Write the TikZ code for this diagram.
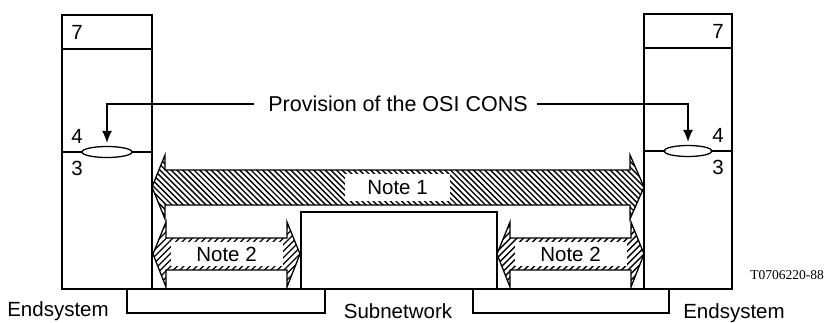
\documentclass[tikz,border=0pt]{standalone}
\usepackage{fontspec}
\setmainfont{Liberation Sans}
\newfontfamily\tfont{Liberation Serif}
\usetikzlibrary{arrows.meta,shapes.geometric}
\begin{document}
\begin{tikzpicture}[x=1pt,y=-1pt,line width=1.3pt,
  lbl/.style={font=\fontsize{20.5}{24}\selectfont,inner sep=0pt},
  lay/.style={ellipse,draw,fill=white,minimum width=50pt,minimum height=11pt,inner sep=0pt},
  hatchline/.style={line width=1.4pt},
  notebox/.style={fill=white,inner sep=0pt,font=\fontsize{20.5}{24}\selectfont},
  conn/.style={-{Latex[length=12pt,width=10pt]},shorten >=3pt}]
\useasboundingbox (0,0) rectangle (830,322);
% end systems
\draw (62,15) rectangle (152,289);
\draw (62,49) -- (152,49);
\draw (644,14) rectangle (732,289);
\draw (644,48) -- (732,48);
% subnetwork
\draw (301,212) rectangle (497,289);
% brackets
\draw (127,289) rectangle (325,313);
\draw (473,289) rectangle (669,313);
% layer divider 4/3
\draw (62,152) -- (152,152);
\draw (644,151) -- (732,151);
\node[lay] (ell1) at (107,152) {};
\node[lay,minimum width=48pt] (ell2) at (688,151) {};
% layer labels
\node[lbl] (l7a) at (77,32) {7};
\node[lbl] (l4a) at (77,136) {4};
\node[lbl] (l3a) at (77,168) {3};
\node[lbl] (l7b) at (718,31) {7};
\node[lbl] (l4b) at (718,135) {4};
\node[lbl] (l3b) at (718,167) {3};
% provision
\node[lbl,font=\fontsize{21.5}{24}\selectfont] (prov) at (398,104) {Provision of the OSI CONS};
\draw[conn] ([xshift=-14pt]prov.west) -| (ell1.north);
\draw[conn] ([xshift=9pt]prov.east) -| (ell2.north);
% Note 1 arrow
\def\arrowA{(152,187) -- (165,155) -- (165,170) -- (630,170) -- (630,155) -- (644,187)
  -- (630,219) -- (630,205) -- (165,205) -- (165,219) -- cycle}
\begin{scope}
  \clip \arrowA;
  \foreach \x in {60,65.7,...,660} \draw[hatchline] (\x,150) -- (\x+72,222);
\end{scope}
\draw \arrowA;
\node[notebox,minimum width=105pt,minimum height=27pt] (n1) at (397.5,187.5) {Note 1};
% Note 2 arrows
\def\arrowB{(153,254) -- (166,222) -- (166,238) -- (287,238) -- (287,222) -- (300,254)
  -- (287,287) -- (287,270) -- (166,270) -- (166,287) -- cycle}
\def\arrowC{(497,254) -- (510,222) -- (510,238) -- (631,238) -- (631,222) -- (644,254)
  -- (631,287) -- (631,270) -- (510,270) -- (510,287) -- cycle}
\begin{scope}
  \clip \arrowB;
  \foreach \x in {80,86.5,...,310} \draw[hatchline] (\x,292) -- (\x+72,220);
\end{scope}
\draw \arrowB;
\begin{scope}
  \clip \arrowC;
  \foreach \x in {424,430.5,...,654} \draw[hatchline] (\x,292) -- (\x+72,220);
\end{scope}
\draw \arrowC;
\node[notebox,minimum width=112pt,minimum height=24pt] (n2a) at (226.5,254) {Note 2};
\node[notebox,minimum width=112pt,minimum height=24pt] (n2b) at (570.5,254) {Note 2};
% bottom labels
\node[lbl] (es1) at (58,311) {Endsystem};
\node[lbl] (subn) at (398,311) {Subnetwork};
\node[lbl] (es2) at (734,313) {Endsystem};
\node[inner sep=0pt,font=\tfont\fontsize{13.5}{16}\selectfont] (ref) at (787,275) {T0706220-88};
\end{tikzpicture}
\end{document}
